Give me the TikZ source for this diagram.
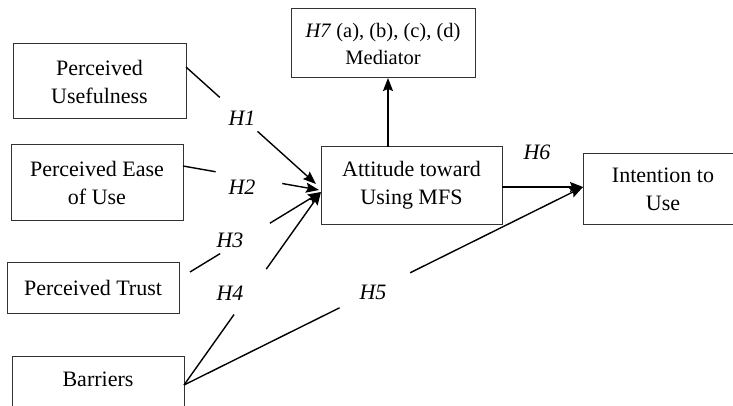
\documentclass[tikz,border=0pt]{standalone}
\usepackage{fontspec}
\setmainfont{Liberation Serif}
\usetikzlibrary{arrows.meta, calc}

\tikzstyle{box} = [rectangle, draw=black!80, line width=1pt, outer sep=0pt, align=center, font=\fontsize{22}{28}\selectfont]
\tikzstyle{hyp} = [font=\fontsize{22}{26}\selectfont\itshape]
\tikzstyle{line} = [line width=1.4pt]
\tikzstyle{arrow} = [line width=1.4pt, -{Stealth[length=13pt,width=10pt,inset=2pt]}]

\begin{document}
\begin{tikzpicture}[x=1pt, y=-1pt]
    \useasboundingbox (0,0) rectangle (733,406);

    \node [box, minimum width=173pt, minimum height=75pt] at (99.5,81.5) (pu) {Perceived\\Usefulness};
    \node [box, minimum width=172pt, minimum height=75pt] at (97,182.5) (peou) {Perceived Ease\\of Use};
    \node [box, minimum width=172pt, minimum height=51pt] at (93,287.5) (pt) {Perceived Trust};
    \node [box, minimum width=172pt, minimum height=75pt] at (98,393.5) (bar) {Barriers\\~};
    \node [box, minimum width=181pt, minimum height=77pt] at (411.5,185.5) (att) {Attitude toward\\Using MFS};
    \node [box, minimum width=184pt, minimum height=69pt, font=\fontsize{20.5}{27}\selectfont] at (383,43.5) (med) {\textit{H7} (a), (b), (c), (d)\\Mediator};
    \node [box, minimum width=160pt, minimum height=70pt] at (663,189) (int) {Intention to\\Use};

    % ends of the paths
    \coordinate (s1) at ([yshift=14.5pt]pu.east);
    \coordinate (s2) at ([yshift=16.5pt]peou.east);
    \coordinate (s3) at ([xshift=11pt,yshift=15.5pt]pt.east);
    \coordinate (s4) at ([yshift=8.5pt]bar.east);
    \coordinate (t1) at ([xshift=-5pt,yshift=1.5pt]att.west);
    \coordinate (t2) at ([xshift=-2pt,yshift=-4.5pt]att.west);
    \coordinate (t3) at ([yshift=-6.5pt]att.west);
    \coordinate (t5) at ([yshift=2pt]int.west);
    \coordinate (m7) at ([xshift=5pt]med.south);

    \draw [line] (s1) -- ($(s1)!0.26!(t1)$);
    \draw [arrow] ($(s1)!0.55!(t1)$) -- (t1);
    \node [hyp] at (242,118) (h1) {H1};

    \draw [line] (s2) -- ($(s2)!0.24!(t2)$);
    \draw [arrow] ($(s2)!0.73!(t2)$) -- (t2);
    \node [hyp] at (242,187) (h2) {H2};

    \draw [line] (s3) -- ($(s3)!0.23!(t3)$);
    \draw [arrow] ($(s3)!0.61!(t3)$) -- (t3);
    \node [hyp] at (230,240) (h3) {H3};

    \draw [line] (s4) -- ($(s4)!0.365!(t3)$);
    \draw [arrow] ($(s4)!0.6!(t3)$) -- (t3);
    \node [hyp] at (230,293) (h4) {H4};

    \draw [line] (s4) -- ($(s4)!0.39!(t5)$);
    \draw [arrow] ($(s4)!0.567!(t5)$) -- (t5);
    \node [hyp] at (373,292) (h5) {H5};

    \draw [arrow] ([yshift=-1.5pt]att.east) -- (t5);
    \node [hyp] at (537,152) (h6) {H6};

    \draw [arrow] (att.north -| m7) -- (m7);
\end{tikzpicture}
\end{document}
